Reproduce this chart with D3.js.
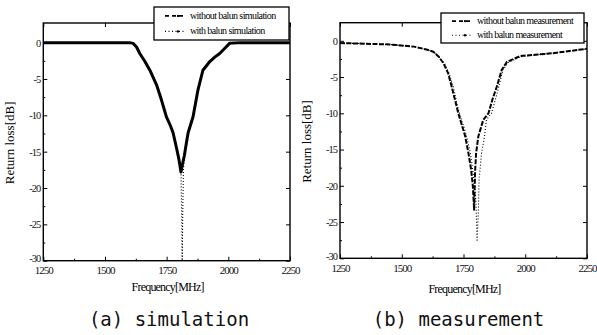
<!DOCTYPE html>
<html>
<head>
<meta charset="utf-8">
<script src="https://cdn.jsdelivr.net/npm/d3@7"></script>
<style>
  html, body { margin: 0; padding: 0; background: #fff; }
  svg { display: block; }
  .tick text { font-family: "Liberation Serif", serif; font-size: 11px; letter-spacing: -1px; fill: #111; }
  .ylab .tick text { font-size: 10.5px; }
</style>
</head>
<body>
<div id="chart"></div>
<script>
// ---- data ----
const xTicks = [1250, 1500, 1750, 2000, 2250];
const yTicks = [0, -5, -10, -15, -20, -25, -30];

// simulation: without balun
const simWithoutFreq = [1250, 1350, 1450, 1550, 1600, 1614, 1628, 1641, 1662, 1682, 1709, 1729, 1749, 1765, 1776, 1790, 1800, 1808, 1815, 1822, 1830, 1837, 1847, 1857, 1877, 1897, 1925, 1945, 1965, 1985, 2005, 2050, 2150, 2250];
const simWithoutLoss = [0, 0, 0, 0, 0, -0.1, -0.6, -1.5, -2.6, -3.8, -5.8, -7.9, -10.2, -11.4, -12.4, -14.5, -16.1, -17.8, -16.6, -15.5, -13.8, -12.4, -11.3, -10.2, -6.5, -3.8, -2.6, -2.0, -1.5, -0.8, -0.1, 0, 0, 0];

// simulation: with balun
const simWithFreq = [1250, 1350, 1450, 1550, 1600, 1614, 1628, 1641, 1662, 1682, 1709, 1729, 1749, 1765, 1776, 1790, 1800, 1808, 1811, 1813, 1815, 1818, 1822, 1830, 1837, 1847, 1857, 1877, 1897, 1925, 1945, 1965, 1985, 2005, 2050, 2150, 2250];
const simWithLoss = [0, 0, 0, 0, 0, -0.1, -0.6, -1.4, -2.5, -3.7, -5.7, -7.8, -10.0, -11.3, -12.3, -14.3, -16.0, -17.6, -24, -30, -24, -17.5, -15.6, -13.9, -12.5, -11.4, -10.3, -6.6, -3.9, -2.7, -2.0, -1.5, -0.8, -0.1, 0, 0, 0];

// measurement: without balun
const measWithoutFreq = [1250, 1350, 1450, 1550, 1600, 1628, 1650, 1669, 1688, 1702, 1716, 1729, 1745, 1757, 1770, 1781, 1788, 1793, 1797, 1801, 1810, 1830, 1851, 1868, 1885, 1905, 1926, 1980, 2050, 2113, 2180, 2250];
const measWithoutLoss = [-0.3, -0.4, -0.5, -0.8, -1.2, -1.5, -2.2, -3.1, -4.5, -6.3, -8.2, -10.0, -11.8, -13.2, -15.5, -17.8, -20.1, -23.3, -18.0, -15.5, -13.2, -10.9, -10.0, -8.0, -6.3, -4.0, -2.9, -2.1, -1.9, -1.7, -1.4, -1.1];

// measurement: with balun
const measWithFreq = [1250, 1350, 1450, 1550, 1600, 1628, 1650, 1675, 1695, 1710, 1722, 1738, 1760, 1778, 1790, 1800, 1805, 1810, 1813, 1823, 1835, 1843, 1863, 1880, 1893, 1910, 1930, 1980, 2050, 2113, 2180, 2250];
const measWithLoss = [-0.3, -0.4, -0.5, -0.8, -1.2, -1.5, -2.2, -3.2, -4.8, -6.5, -8.5, -10.5, -12.8, -15.5, -18.5, -22.0, -27.5, -23.8, -19.2, -15.5, -13.2, -10.9, -10.0, -8.0, -6.3, -4.0, -3.0, -2.2, -1.9, -1.7, -1.4, -1.1];

const panels = [
  {
    x0: 43.3, x1: 290, yTop: 23, yBot: 260.7, yMax: 2.7,
    caption: '(a) simulation', capX: 169,
    yLabelX: 14, xLabelY: 291,
    legend: { x: 154, y: 7, w: 135, h: 33 },
    names: ['without balun simulation', 'with balun simulation'],
    series: [
      { f: simWithoutFreq, v: simWithoutLoss, width: 3, dash: null },
      { f: simWithFreq, v: simWithLoss, width: 1.1, dash: '1,2' }
    ]
  },
  {
    x0: 340, x1: 587, yTop: 22.7, yBot: 258.3, yMax: 2.5,
    caption: '(b) measurement', capX: 458.5,
    yLabelX: 311, xLabelY: 293,
    legend: { x: 441, y: 13, w: 143, h: 30 },
    names: ['without balun measurement', 'with balun measurement'],
    series: [
      { f: measWithoutFreq, v: measWithoutLoss, width: 2, dash: '5,1.5' },
      { f: measWithFreq, v: measWithLoss, width: 1.1, dash: '1,2' }
    ]
  }
];

const svg = d3.select('#chart').append('svg')
  .attr('width', 597)
  .attr('height', 335)
  .style('background', '#fff');

panels.forEach((p, i) => {
  const x = d3.scaleLinear().domain([1250, 2250]).range([p.x0, p.x1]);
  const y = d3.scaleLinear().domain([-30, p.yMax]).range([p.yBot, p.yTop]);
  const g = svg.append('g');

  const clipId = 'clip' + i;
  g.append('clipPath').attr('id', clipId)
    .append('rect')
    .attr('x', p.x0).attr('y', p.yTop)
    .attr('width', p.x1 - p.x0).attr('height', p.yBot - p.yTop);

  // minor ticks (midpoints)
  const xMinor = xTicks.slice(0, -1).map(d => d + 125);
  const yMinor = yTicks.slice(1).map(d => d + 2.5);

  const axes = [
    [d3.axisBottom(x).tickValues(xTicks).tickFormat(d => d).tickSize(-4).tickPadding(6), `translate(0,${p.yBot})`, 'xlab'],
    [d3.axisBottom(x).tickValues(xMinor).tickFormat('').tickSize(-2), `translate(0,${p.yBot})`, ''],
    [d3.axisTop(x).tickValues(xTicks).tickFormat('').tickSize(-4), `translate(0,${p.yTop})`, ''],
    [d3.axisLeft(y).tickValues(yTicks).tickFormat(d => d).tickSize(-4).tickPadding(3), `translate(${p.x0},0)`, 'ylab'],
    [d3.axisLeft(y).tickValues(yMinor).tickFormat('').tickSize(-2), `translate(${p.x0},0)`, ''],
    [d3.axisRight(y).tickValues(yTicks).tickFormat('').tickSize(-4), `translate(${p.x1},0)`, '']
  ];
  axes.forEach(([ax, tr, cls]) => {
    const a = g.append('g').attr('class', cls).attr('transform', tr).call(ax);
    a.select('.domain').remove();
    a.selectAll('line').attr('stroke', '#000').attr('stroke-width', 1);
  });
  // keep the -30 label clear of the 1250 label, as in the corner of the original
  g.select('.ylab').selectAll('.tick text').filter(d => d === -30).attr('dy', '0.1em');

  // curves
  const line = d3.line().x(d => x(d[0])).y(d => y(d[1]));
  p.series.forEach(s => {
    const pts = s.f.map((f, k) => [f, s.v[k]]);
    g.append('path')
      .datum(pts)
      .attr('clip-path', `url(#${clipId})`)
      .attr('d', line)
      .attr('fill', 'none')
      .attr('stroke', '#000')
      .attr('stroke-width', s.width)
      .attr('stroke-linejoin', 'round')
      .attr('stroke-dasharray', s.dash);
  });

  // frame
  g.append('rect')
    .attr('x', p.x0).attr('y', p.yTop)
    .attr('width', p.x1 - p.x0).attr('height', p.yBot - p.yTop)
    .attr('fill', 'none').attr('stroke', '#000').attr('stroke-width', 1.4);

  // legend
  const L = p.legend;
  g.append('rect')
    .attr('x', L.x).attr('y', L.y).attr('width', L.w).attr('height', L.h)
    .attr('fill', '#fff').attr('stroke', '#000').attr('stroke-width', 1.3);
  p.names.forEach((name, k) => {
    const ly = L.y + L.h * (k === 0 ? 0.27 : 0.74);
    g.append('line')
      .attr('x1', L.x + 11).attr('x2', L.x + 30)
      .attr('y1', ly).attr('y2', ly)
      .attr('stroke', '#000')
      .attr('stroke-width', k === 0 ? 1.6 : 1.1)
      .attr('stroke-dasharray', k === 0 ? '4,3' : '1,2.5');
    g.append('circle')
      .attr('cx', L.x + 24).attr('cy', ly).attr('r', 1.2).attr('fill', '#000');
    g.append('text')
      .attr('x', L.x + 36).attr('y', ly + 3)
      .attr('font-family', '"Liberation Serif", serif')
      .attr('font-size', 10)
      .attr('letter-spacing', -0.6)
      .attr('fill', '#000')
      .text(name);
  });

  // axis labels
  g.append('text')
    .attr('transform', `translate(${p.yLabelX},${(p.yTop + p.yBot) / 2 + 1}) rotate(-90)`)
    .attr('text-anchor', 'middle')
    .attr('font-family', '"Liberation Serif", serif')
    .attr('font-size', 13)
    .attr('fill', '#000')
    .text('Return loss[dB]');
  g.append('text')
    .attr('x', (p.x0 + p.x1) / 2 + 1)
    .attr('y', p.xLabelY)
    .attr('text-anchor', 'middle')
    .attr('font-family', '"Liberation Serif", serif')
    .attr('font-size', 12)
    .attr('letter-spacing', -0.8)
    .attr('fill', '#000')
    .text('Frequency[MHz]');

  // caption
  svg.append('text')
    .attr('x', p.capX)
    .attr('y', 326)
    .attr('text-anchor', 'middle')
    .attr('font-family', '"DejaVu Sans Mono", monospace')
    .attr('font-size', 19)
    .attr('fill', '#111')
    .text(p.caption);
});
</script>
</body>
</html>
